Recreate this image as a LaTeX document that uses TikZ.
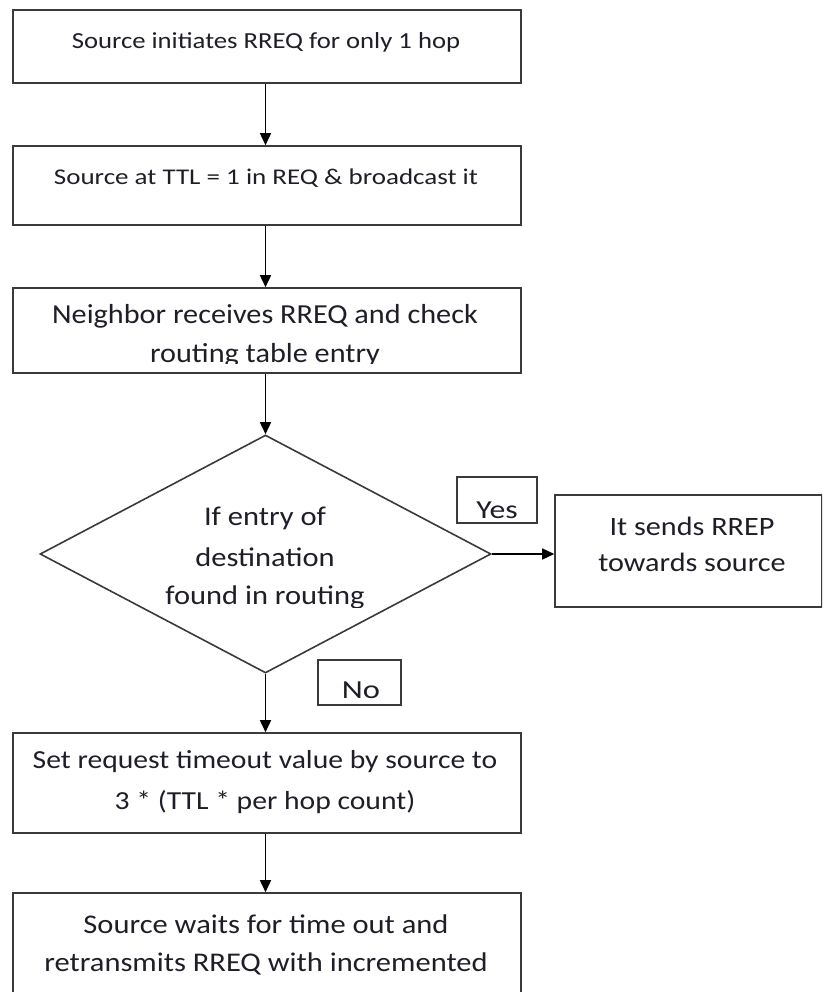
\documentclass[tikz,border=0pt]{standalone}
\usepackage{fontspec}
\setmainfont{Carlito}
\usetikzlibrary{shapes.geometric,arrows.meta}
\newcommand{\fsz}[2]{\fontsize{#1}{#1}\selectfont\addfontfeature{FakeStretch=#2}}
\definecolor{linec}{HTML}{3A3A3A}
\definecolor{textc}{HTML}{1E1E28}
\tikzset{
  box/.style={draw=linec, line width=1.6pt, rectangle, inner sep=0pt},
  txt/.style={text=textc, inner sep=0pt, align=center},
  arr/.style={draw=black, line width=1.6pt, -{Triangle[length=12pt,width=11pt]}},
}
\begin{document}
\begin{tikzpicture}[x=1pt,y=-1pt]
\useasboundingbox (0,0) rectangle (822,992);
\clip (0,0) rectangle (822,992);
% boxes
\node[box, minimum width=508pt, minimum height=73pt] (b1) at (267,46.5) {};
\node[box, minimum width=508pt, minimum height=79pt] (b2) at (267,185.5) {};
\node[box, minimum width=508pt, minimum height=85pt] (b3) at (267,330.5) {};
\node[draw=linec, line width=1.6pt, diamond, minimum width=451pt, minimum height=238pt, inner sep=0pt] (d) at (265.5,554) {};
\node[box, minimum width=80pt, minimum height=46pt] (yes) at (497,500) {};
\node[box, minimum width=267pt, minimum height=112pt] (rrep) at (688.5,551) {};
\node[box, minimum width=83pt, minimum height=45pt] (no) at (359.5,682.5) {};
\node[box, minimum width=508pt, minimum height=100pt] (b4) at (267,783) {};
\node[box, minimum width=508pt, minimum height=130pt] (b5) at (267,958) {};
% texts
\node[txt, font=\fsz{23}{1.16}] (t1) at (266,42) {Source initiates RREQ for only 1 hop};
\node[txt, font=\fsz{22.5}{1.2}] (t2) at (266,178) {Source at TTL = 1 in REQ \& broadcast it};
\node[txt, font=\fsz{27.5}{1.1}] (t3) at (265,316) {Neighbor receives RREQ and check};
\begin{scope}
\clip (20,330) rectangle (515,363);
\node[txt, font=\fsz{27.5}{1.1}] (t3b) at (265,355) {routing table entry};
\end{scope}
\node[txt, font=\fsz{27}{1.13}] (t4a) at (265,518) {If entry of};
\node[txt, font=\fsz{27}{1.13}] (t4b) at (265,557) {destination};
\begin{scope}
\clip (100,575) rectangle (430,607);
\node[txt, font=\fsz{27}{1.13}] (t4c) at (265,597) {found in routing};
\end{scope}
\begin{scope}
\clip (460,480) rectangle (534,518);
\node[txt, font=\fsz{26}{1.22}] (ty) at (497,510) {Yes};
\end{scope}
\begin{scope}
\clip (320,662) rectangle (399,698);
\node[txt, font=\fsz{26}{1.25}] (tn) at (361,690) {No};
\end{scope}
\node[txt, font=\fsz{26.5}{1.14}] (t5a) at (692,526) {It sends RREP};
\node[txt, font=\fsz{26.5}{1.14}] (t5b) at (692,562) {towards source};
\node[txt, font=\fsz{26}{1.14}] (t6a) at (265,762) {Set request timeout value by source to};
\node[txt, font=\fsz{26}{1.14}] (t6b) at (265,802) {3 * (TTL * per hop count)};
\node[txt, font=\fsz{27}{1.13}] (t7a) at (266,924) {Source waits for time out and};
\node[txt, font=\fsz{27}{1.13}] (t7b) at (266,964) {retransmits RREQ with incremented};
% connectors
\draw[arr] (b1.south -| d.north) -- (b2.north -| d.north);
\draw[arr] (b2.south -| d.north) -- (b3.north -| d.north);
\draw[arr] (b3.south -| d.north) -- (d.north);
\draw[arr] (d.east) -- (d.east -| rrep.west);
\draw[arr] (d.south) -- (b4.north -| d.south);
\draw[arr] (b4.south -| d.north) -- (b5.north -| d.north);
\end{tikzpicture}
\end{document}
